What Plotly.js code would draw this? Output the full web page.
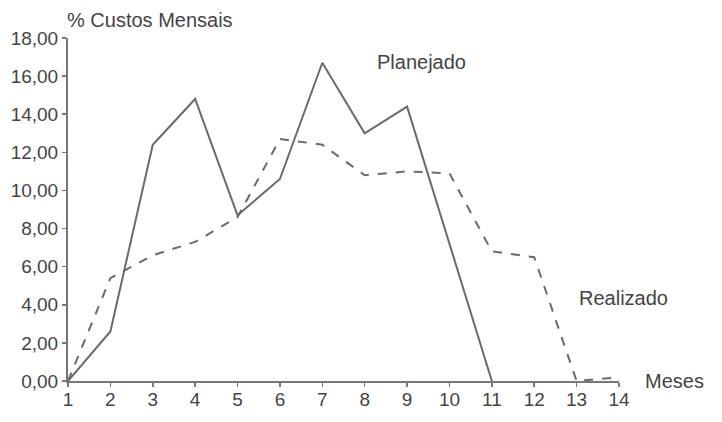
<!DOCTYPE html>
<html>
<head>
<meta charset="utf-8">
<script src="https://cdn.plot.ly/plotly-3.0.1.min.js"></script>
<style>html,body{margin:0;padding:0;background:#fff}#chart{width:722px;height:422px}</style>
</head>
<body>
<div id="chart"></div>
<script>
const meses = [1,2,3,4,5,6,7,8,9,10,11,12,13,14];
const planejadoX = [1,2,3,4,5,6,7,8,9,10,11];
const planejado = [0.0,2.6,12.4,14.8,8.7,10.6,16.7,13.0,14.4,7.2,0.0];
const realizado = [0.0,5.4,6.6,7.3,8.6,12.7,12.4,10.8,11.0,10.9,6.8,6.5,0.0,0.2];
const yTicks = [0,2,4,6,8,10,12,14,16,18];

const fontFam = 'Liberation Sans, Arial, sans-serif';
const txt = '#444';
const lineCol = '#6a6a6a';

const traces = [
  {x: planejadoX, y: planejado, type: 'scatter', mode: 'lines', name: 'Planejado',
   line: {color: lineCol, width: 2}, cliponaxis: false},
  {x: meses, y: realizado, type: 'scatter', mode: 'lines', name: 'Realizado',
   line: {color: lineCol, width: 2, dash: 'dash'}, cliponaxis: false}
];

const layout = {
  width: 722, height: 422,
  margin: {l: 68, r: 103, t: 38, b: 41},
  paper_bgcolor: '#fff', plot_bgcolor: '#fff',
  showlegend: false,
  separators: ',.',
  font: {family: fontFam, size: 19, color: txt},
  xaxis: {
    range: [1, 14], tickvals: meses, ticktext: meses.map(String),
    showgrid: false, zeroline: false, showline: true, linecolor: '#777', linewidth: 2,
    ticks: 'outside', ticklen: 4, tickcolor: '#777', tickwidth: 1.5,
    ticklabelstandoff: -4,
    tickfont: {family: fontFam, size: 19, color: txt}
  },
  yaxis: {
    range: [0, 18], tickvals: yTicks, tickformat: '.2f',
    showgrid: false, zeroline: false, showline: true, linecolor: '#777', linewidth: 2,
    ticks: 'outside', ticklen: 4, tickcolor: '#777', tickwidth: 1.5,
    tickfont: {family: fontFam, size: 19, color: txt}
  },
  annotations: [
    {text: '% Custos Mensais', xref: 'paper', yref: 'paper', x: 0, y: 1, xanchor: 'left', yanchor: 'middle',
     xshift: -3, yshift: 18, showarrow: false, font: {family: fontFam, size: 20, color: txt}},
    {text: 'Planejado', xref: 'paper', yref: 'paper', x: (9.33 - 1) / 13, y: 16.74 / 18,
     xanchor: 'center', yanchor: 'middle', showarrow: false,
     font: {family: fontFam, size: 20, color: txt}},
    {text: 'Realizado', xref: 'paper', yref: 'paper', x: (14.1 - 1) / 13, y: 4.35 / 18,
     xanchor: 'center', yanchor: 'middle', showarrow: false,
     font: {family: fontFam, size: 20, color: txt}},
    {text: 'Meses', xref: 'paper', yref: 'paper', x: (15.32 - 1) / 13, y: 0,
     xanchor: 'center', yanchor: 'middle', showarrow: false,
     font: {family: fontFam, size: 20, color: txt}}
  ]
};

Plotly.newPlot('chart', traces, layout, {displayModeBar: false, staticPlot: true});
</script>
</body>
</html>
